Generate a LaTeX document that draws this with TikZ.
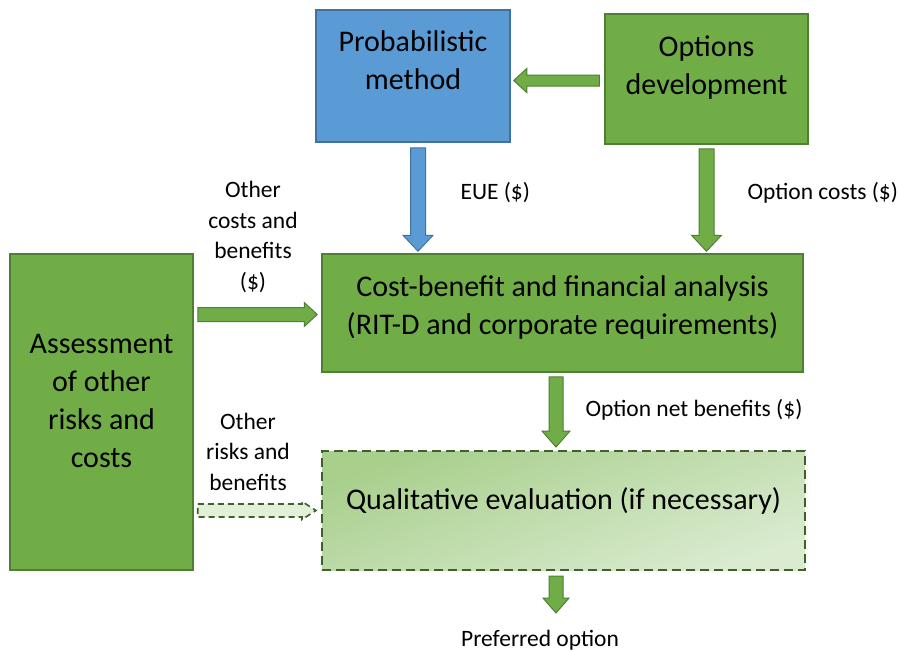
\documentclass[tikz,border=0pt]{standalone}
\usepackage{fontspec}
\setmainfont{Carlito}
\usetikzlibrary{calc,positioning}

\definecolor{probblue}{HTML}{5B9BD5}
\definecolor{probedge}{HTML}{41719C}
\definecolor{optgreen}{HTML}{70AD47}
\definecolor{optedge}{HTML}{507E32}
\definecolor{qualtop}{HTML}{A8CF8C}
\definecolor{qualmid}{HTML}{B4D79E}
\definecolor{qualbottom}{HTML}{DAEBD0}
\definecolor{qualedge}{HTML}{3F5F2B}
\definecolor{hintgreen}{HTML}{E2F0D9}

\newcommand{\boxsize}{\fontsize{30}{38}\selectfont}
\newcommand{\lblsize}{\fontsize{23.5}{30.5}\selectfont}
% fat arrow: [style]{tail}{tip}{half shaft}{half head}{head length}
\newcommand{\blockarrow}[6][]{%
	\coordinate (ba-tail) at (#2);
	\coordinate (ba-tip) at (#3);
	\coordinate (ba-base) at ($(ba-tip)!#6!(ba-tail)$);
	\filldraw[#1] ($(ba-tail)!#4!90:(ba-tip)$) -- ($(ba-base)!#4!90:(ba-tip)$) -- ($(ba-base)!#5!90:(ba-tip)$) -- (ba-tip)
		-- ($(ba-base)!#5!-90:(ba-tip)$) -- ($(ba-base)!#4!-90:(ba-tip)$) -- ($(ba-tail)!#4!-90:(ba-tip)$) -- cycle;}

\begin{document}
\begin{tikzpicture}[x = 1pt, y = -1pt,
		box/.style = {line width = 1.5pt, align = center, font = \boxsize},
		greenbox/.style = {box, fill = optgreen, draw = optedge},
		lbl/.style = {align = center, font = \lblsize},
		greenflow/.style = {fill = optgreen, draw = optedge, line width = 1pt},
		blueflow/.style = {fill = probblue, draw = probedge, line width = 1pt},
		hintflow/.style = {fill = hintgreen, draw = qualedge, line width = 1.6pt, dash pattern = on 6pt off 4pt}]
		\useasboundingbox (0,0) rectangle (898,651);
		\node[box, fill = probblue, draw = probedge, minimum width = 194, minimum height = 132, text depth = 31] (prob) at (413,76) {Probabilistic\\method};
		\node[greenbox, minimum width = 203, minimum height = 130, text depth = 27] (opts) at (706.5,79) {Options\\development};
		\node[greenbox, minimum width = 481, minimum height = 118, text depth = 16] (cba) at (562.5,313) {Cost-benefit and financial analysis\\(RIT-D and corporate requirements)};
		\node[greenbox, minimum width = 183, minimum height = 316, text depth = 23] (assess) at (101.5,412) {Assessment\\of other\\risks and\\costs};
		\node[box, draw = qualedge, line width = 2pt, dash pattern = on 9pt off 5pt, top color = qualtop, middle color = qualmid, bottom color = qualbottom, shading angle = 20,
			minimum width = 483, minimum height = 119, text depth = 23] (qual) at (563.5,510.5) {Qualitative evaluation (if necessary)};

		\blockarrow[greenflow]{$(opts.west)+(-5,1.5)$}{$(prob.east)+(3,4.5)$}{5.5pt}{12pt}{13pt}
		\blockarrow[blueflow]{$(prob.south)+(5,5)$}{$(prob.south |- cba.north)+(5,-2)$}{7.5pt}{15pt}{16pt}
		\blockarrow[greenflow]{$(opts.south)+(0,4)$}{$(opts.south |- cba.north)+(0,-2)$}{7.5pt}{15pt}{16pt}
		\blockarrow[greenflow]{$(assess.east |- cba.west)+(4,1.5)$}{$(cba.west)+(-4,1.5)$}{7pt}{12pt}{13pt}
		\blockarrow[greenflow]{$(cba.south)+(-6.5,4)$}{$(qual.north)+(-7.5,-3)$}{7pt}{14pt}{16pt}
		\blockarrow[hintflow]{$(assess.east |- qual.west)+(4,0)$}{$(qual.west)+(-5,0)$}{6.5pt}{9pt}{14pt}
		\blockarrow[greenflow]{$(qual.south)+(-7.5,5)$}{$(qual.south)+(-7.5,42)$}{7pt}{13pt}{15pt}

		\node[lbl, anchor = west] (eue) at (457,193) {EUE (\$)};
		\node[lbl, anchor = west] (cost) at (744,193) {Option costs (\$)};
		\node[lbl] (other) at (253,237) {Other\\costs and\\benefits\\(\$)};
		\node[lbl, anchor = west] (net) at (582,410) {Option net benefits (\$)};
		\node[lbl] (risks) at (248,451.5) {Other\\risks and\\benefits};
		\node[lbl] (pref) at (540,640) {Preferred option};
	\end{tikzpicture}
\end{document}
